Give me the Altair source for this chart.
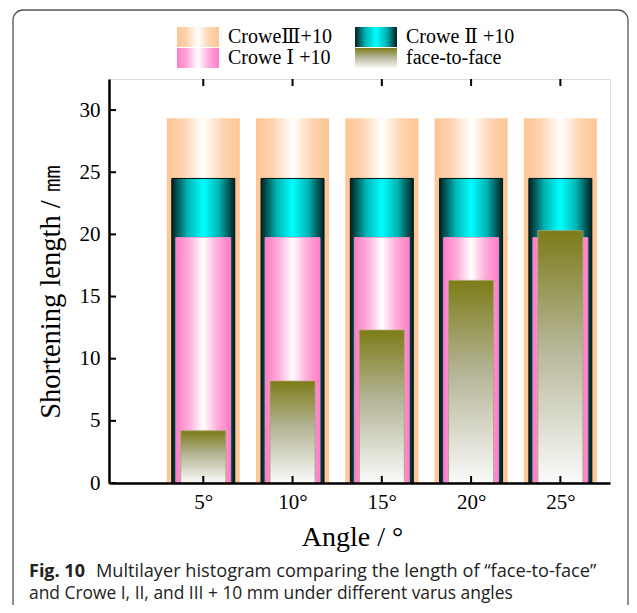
import altair as alt
import pandas as pd

# ---------------- data ----------------
angles = [5, 10, 15, 20, 25]
crowe3 = [29.35, 29.35, 29.35, 29.35, 29.35]
crowe2 = [24.5, 24.5, 24.5, 24.5, 24.5]
crowe1 = [19.75, 19.75, 19.75, 19.75, 19.75]
face = [4.2, 8.2, 12.3, 16.3, 20.3]
y_ticks = [0, 5, 10, 15, 20, 25, 30]

legend_labels = ["CroweⅢ+10", "Crowe Ⅱ +10", "Crowe Ⅰ +10", "face-to-face"]
legend_col = [0, 1, 0, 1]
legend_row = [0, 0, 1, 1]

x_title = "Angle / °"
y_title = "Shortening length / ㎜"
caption_bold = "Fig. 10"
caption_line1 = "Multilayer histogram comparing the length of “face-to-face”"
caption_line2 = "and Crowe I, II, and III + 10 mm under different varus angles"

df = pd.DataFrame({"angle": angles, "c3": crowe3, "c2": crowe2, "c1": crowe1, "face": face})
xt = pd.DataFrame({"v": angles})
yt = pd.DataFrame({"v": y_ticks})
leg = pd.DataFrame({"label": legend_labels, "col": legend_col, "row": legend_row})
one = pd.DataFrame({"k": [0]})

# ---------------- styles ----------------
SERIF = "Liberation Serif"
LEGFONT = "Liberation Serif, DejaVu Serif, serif"
CAPFONT = "Open Sans"


def hgrad(stops):
    return {"gradient": "linear", "x1": 0, "x2": 1, "y1": 0, "y2": 0,
            "stops": [{"offset": o, "color": c} for o, c in stops]}


def vgrad(stops):
    return {"gradient": "linear", "x1": 0, "x2": 0, "y1": 0, "y2": 1,
            "stops": [{"offset": o, "color": c} for o, c in stops]}


g_orange = hgrad([(0, "#FDC594"), (0.22, "#FED3AE"), (0.5, "#FFFFFF"), (0.78, "#FED3AE"), (1, "#FDC594")])
g_cyan = hgrad([(0, "#002020"), (0.25, "#00B4B4"), (0.5, "#00FFFF"), (0.75, "#00B4B4"), (1, "#002020")])
g_pink = hgrad([(0, "#FF7CC6"), (0.25, "#FFAEDC"), (0.5, "#FFFFFF"), (0.75, "#FFAEDC"), (1, "#FF7CC6")])
g_face = vgrad([(0, "#7C7C18"), (0.45, "#B4B496"), (1, "#FAFAFA")])

W, H = 501, 404

x_axis = alt.Axis(values=angles, labelExpr="datum.value + '°'", title=x_title,
                  grid=False, ticks=False, tickSize=0, domain=True, domainColor="black",
                  domainWidth=2.5, labelFont=SERIF, labelFontSize=21, labelColor="black",
                  labelPadding=8, titleFont=SERIF, titleFontSize=28, titleFontWeight="normal",
                  titleColor="black", titleX=243, titleY=62, titleAlign="center",
                  titleBaseline="alphabetic", zindex=1)
y_axis = alt.Axis(values=y_ticks, title=y_title, grid=False, ticks=False, tickSize=0,
                  domain=True, domainColor="black", domainWidth=2.5, labelFont=SERIF,
                  labelFontSize=21, labelColor="black", labelPadding=9, titleFont=SERIF,
                  titleFontSize=28.5, titleFontWeight="normal", titleColor="black",
                  titleAngle=-90, titleX=-59, titleY=212, titleAlign="center",
                  titleBaseline="middle", zindex=1)

X = alt.X("angle:Q", scale=alt.Scale(domain=[0, 27.5], nice=False), axis=x_axis)
yscale = alt.Scale(domain=[0, 32.5], nice=False)

base = alt.Chart(df)
b3 = base.mark_bar(orient="vertical", width=73, fill=g_orange, strokeWidth=0).encode(
    x=X, y=alt.Y("c3:Q", scale=yscale, axis=y_axis))
b2 = base.mark_bar(orient="vertical", width=63, fill=g_cyan, stroke="#021414", strokeWidth=1).encode(
    x=X, y=alt.Y("c2:Q", scale=yscale, axis=y_axis))
b1 = base.mark_bar(orient="vertical", width=55, fill=g_pink, stroke="#FF8CCB", strokeWidth=0.8).encode(
    x=X, y=alt.Y("c1:Q", scale=yscale, axis=y_axis))
bf = base.mark_bar(orient="vertical", width=45, fill=g_face, stroke="#A4A470", strokeWidth=0.8).encode(
    x=X, y=alt.Y("face:Q", scale=yscale, axis=y_axis))

XT = alt.X("v:Q", scale=alt.Scale(domain=[0, 27.5], nice=False), axis=x_axis)
YT = alt.Y("v:Q", scale=yscale, axis=y_axis)
tick_y = alt.Chart(yt).mark_rule(color="black", strokeWidth=2).encode(
    y=YT, x=alt.value(0), x2=alt.value(7))
tick_xb = alt.Chart(xt).mark_rule(color="black", strokeWidth=2).encode(
    x=XT, y=alt.value(H), y2=alt.value(H - 7))
tick_xt = alt.Chart(xt).mark_rule(color="black", strokeWidth=2).encode(
    x=XT, y=alt.value(0), y2=alt.value(7))

frame = alt.Chart(one).mark_rect(cornerRadius=10, fillOpacity=0, stroke="#555555",
                                 strokeWidth=1.3).encode(
    x=alt.value(-96), x2=alt.value(519), y=alt.value(-69), y2=alt.value(560))

cap_b = alt.Chart(one).mark_text(align="left", baseline="alphabetic", font=CAPFONT,
                                 fontSize=18, fontWeight="bold", color="#222222").encode(
    x=alt.value(-80), y=alt.value(498), text=alt.value(caption_bold))
cap_1 = alt.Chart(one).mark_text(align="left", baseline="alphabetic", font=CAPFONT,
                                 fontSize=18.2, color="#222222").encode(
    x=alt.value(-13), y=alt.value(498), text=alt.value(caption_line1))
cap_2 = alt.Chart(one).mark_text(align="left", baseline="alphabetic", font=CAPFONT,
                                 fontSize=17.4, color="#222222").encode(
    x=alt.value(-80), y=alt.value(520), text=alt.value(caption_line2))

main = alt.layer(b3, b2, b1, bf, tick_y, tick_xb, tick_xt, frame, cap_b, cap_1, cap_2)

# ---------------- legend ----------------
LX = alt.X("col:Q", scale=alt.Scale(domain=[0, 1], range=[89, 267], nice=False, zero=False), axis=None)
LY = alt.Y("row:Q", scale=alt.Scale(domain=[0, 1], range=[-42, -21], nice=False, zero=False), axis=None)
swatch_path = "M-1,-0.476H1V0.476H-1Z"
grads = [g_orange, g_cyan, g_pink, g_face]
sw_layers = []
for lab, g in zip(legend_labels, grads):
    sw_layers.append(
        alt.Chart(leg).transform_filter(alt.datum.label == lab).mark_point(
            shape=swatch_path, size=1764, filled=True, fill=g, opacity=1, strokeWidth=0
        ).encode(x=LX, y=LY)
    )
leg_text = alt.Chart(leg).mark_text(align="left", baseline="middle", dx=30, font=LEGFONT,
                                    fontSize=20, color="black").encode(
    x=LX, y=LY, text="label:N")
legend = alt.layer(*sw_layers, leg_text)

chart = alt.layer(main, legend).resolve_scale(x="independent", y="independent").properties(
    width=W, height=H,
    autosize=alt.AutoSizeParams(type="none"),
    padding={"left": 101, "top": 71, "right": 19, "bottom": 122},
).configure_view(stroke="black", strokeWidth=2.5).configure(background="white")

chart.save("out.html", embed_options={"renderer": "svg", "actions": False})
